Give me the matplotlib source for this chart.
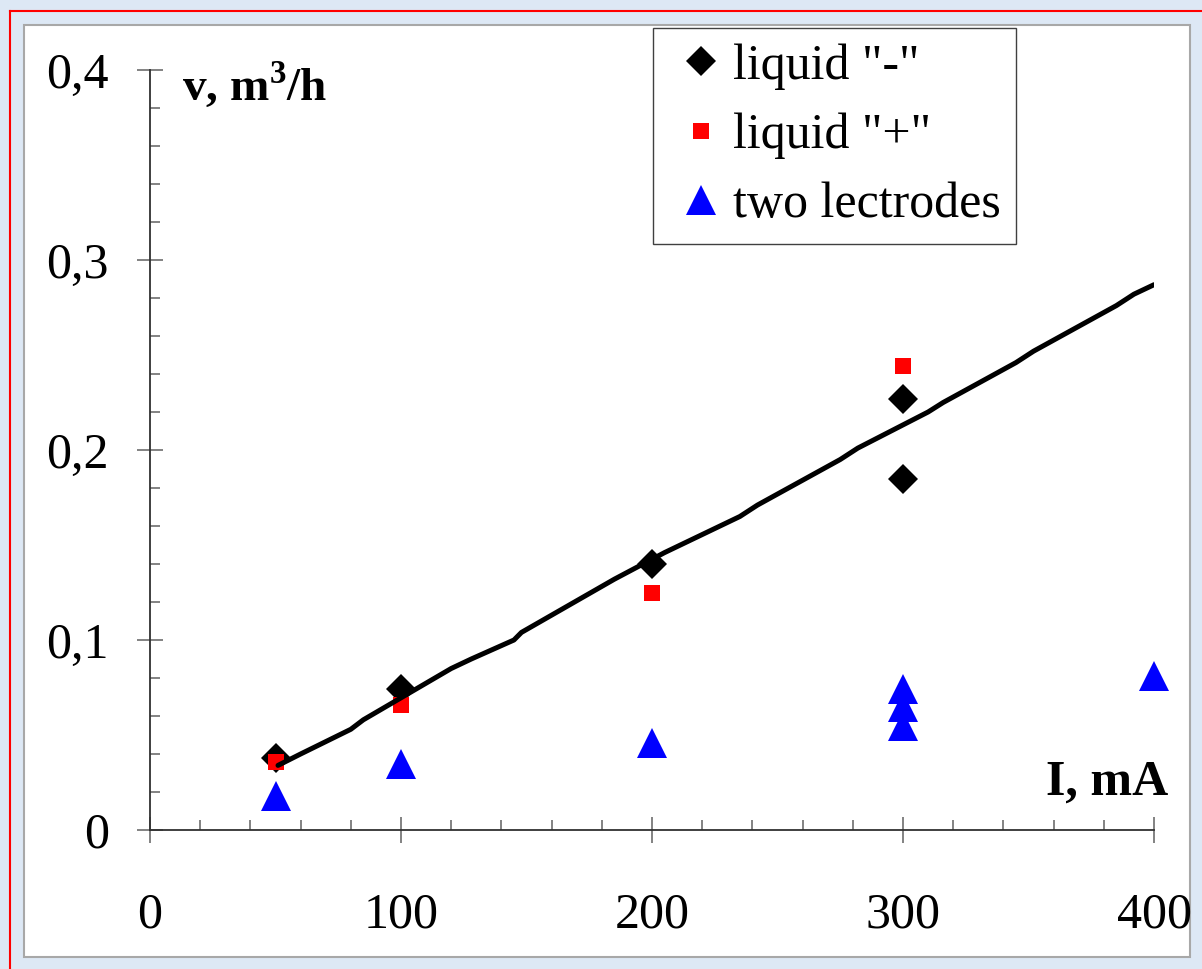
import matplotlib
matplotlib.use("Agg")
import matplotlib.pyplot as plt
from matplotlib.lines import Line2D
from matplotlib.patches import Rectangle
from matplotlib.ticker import MultipleLocator, FuncFormatter

plt.rcParams["font.family"] = ["Liberation Serif", "DejaVu Serif"]
plt.rcParams["mathtext.fontset"] = "custom"
plt.rcParams["mathtext.rm"] = "Liberation Serif"
plt.rcParams["mathtext.bf"] = "Liberation Serif:bold"

# measured points
neg_current = [50, 100, 200, 300, 300]
neg_flow = [0.038, 0.074, 0.140, 0.227, 0.185]

pos_current = [50, 100, 200, 300]
pos_flow = [0.036, 0.066, 0.125, 0.244]

two_current = [50, 100, 200, 300, 300, 300, 400]
two_flow = [0.018, 0.035, 0.046, 0.074, 0.065, 0.055, 0.081]

# trend line (hand drawn in the original, slightly wavy)
fit_current = [51, 60, 80, 85, 120, 128, 145, 148, 185, 205, 235, 242, 275, 282,
               310, 316, 345, 352, 385, 392, 400]
fit_flow = [0.034, 0.040, 0.053, 0.058, 0.085, 0.090, 0.100, 0.104, 0.132, 0.146,
            0.165, 0.171, 0.195, 0.201, 0.220, 0.225, 0.246, 0.252, 0.276, 0.282,
            0.287]

W, H = 1202, 969
fig = plt.figure(figsize=(W / 100, H / 100), dpi=100)
fig.patch.set_facecolor("#dde8f5")

# white panel and red frame
fig.add_artist(Rectangle((24 / W, 1 - 957 / H), (1190 - 24) / W, (957 - 25) / H,
                         transform=fig.transFigure, facecolor="white",
                         edgecolor="#a8a8a8", linewidth=1.5, zorder=0))
fig.add_artist(Line2D([10 / W, 10 / W], [0, 1 - 11 / H], transform=fig.transFigure,
                      color="red", linewidth=1.5))
fig.add_artist(Line2D([10 / W, 1], [1 - 11 / H, 1 - 11 / H], transform=fig.transFigure,
                      color="red", linewidth=1.5))

ax = fig.add_axes([150 / W, 1 - 830 / H, 1004 / W, 760 / H])
ax.set_facecolor("none")

ax.plot(neg_current, neg_flow, linestyle="none", marker="D", markersize=15,
        color="black", markeredgewidth=0, label='liquid "-"', zorder=3, clip_on=False)
ax.plot(pos_current, pos_flow, linestyle="none", marker="s", markersize=12,
        color="red", markeredgewidth=0, label='liquid "+"', zorder=3, clip_on=False)
ax.plot(two_current, two_flow, linestyle="none", marker="^", markersize=21,
        color="blue", markeredgewidth=0, label="two lectrodes", zorder=3, clip_on=False)
ax.plot(fit_current, fit_flow, color="black", linewidth=3.6,
        solid_capstyle="round", solid_joinstyle="round", zorder=4)

ax.set_xlim(0, 400)
ax.set_ylim(0, 0.4)
for s in ("top", "right"):
    ax.spines[s].set_visible(False)
for s in ("left", "bottom"):
    ax.spines[s].set_color("#303030")
    ax.spines[s].set_linewidth(1.3)

ax.xaxis.set_major_locator(MultipleLocator(100))
ax.xaxis.set_minor_locator(MultipleLocator(20))
ax.yaxis.set_major_locator(MultipleLocator(0.1))
ax.yaxis.set_minor_locator(MultipleLocator(0.02))
ax.yaxis.set_major_formatter(FuncFormatter(
    lambda v, p: "0" if abs(v) < 1e-9 else f"{v:.1f}".replace(".", ",")))

ax.tick_params(which="major", direction="inout", length=19, width=1.1,
               color="#606060", labelsize=36, labelcolor="black")
ax.tick_params(which="minor", direction="in", length=7.5, width=1.1, color="#606060")
ax.tick_params(axis="x", which="major", pad=35)
ax.tick_params(axis="y", which="major", pad=20)

fig.text(182 / W, 1 - 100 / H, r"v, m$^\mathbf{3}$/h", fontsize=34,
         fontweight="bold", ha="left", va="baseline")
fig.text(1168 / W, 1 - 795 / H, "I, mA", fontsize=36, fontweight="bold",
         ha="right", va="baseline")

leg = ax.legend(loc="upper left", bbox_to_anchor=(653 / W, 1 - 28 / H),
                bbox_transform=fig.transFigure, borderaxespad=0, fontsize=36,
                handlelength=1.3, handletextpad=0.0, labelspacing=0.46,
                borderpad=0.3, fancybox=False, framealpha=1, numpoints=1)
leg.get_frame().set_edgecolor("#404040")
leg.get_frame().set_linewidth(1.0)

fig.savefig("out.png", dpi=100, facecolor=fig.get_facecolor())
